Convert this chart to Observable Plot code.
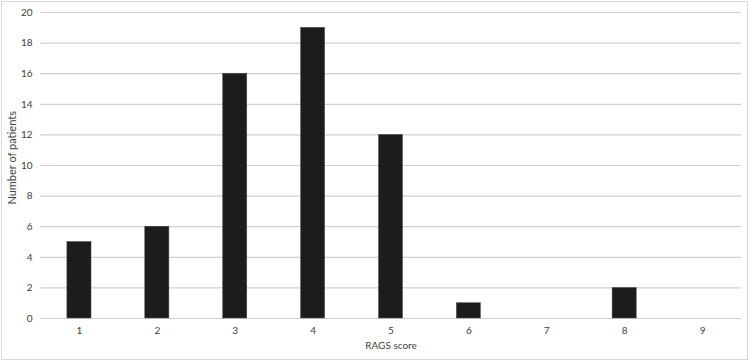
<!DOCTYPE html>
<html>
<head>
<meta charset="utf-8">
<script src="https://cdn.jsdelivr.net/npm/d3@7"></script>
<script src="https://cdn.jsdelivr.net/npm/@observablehq/plot@0.6"></script>
<style>
  html, body { margin: 0; padding: 0; background: #fff; }
  #chart svg { display: block; outline: 1px solid #d9d9d9; outline-offset: -2px; }
</style>
</head>
<body>
<div id="chart"></div>
<script>
const scores = ["1", "2", "3", "4", "5", "6", "7", "8", "9"];
const patients = [5, 6, 16, 19, 12, 1, 0, 2, 0];
const yTicks = [0, 2, 4, 6, 8, 10, 12, 14, 16, 18, 20];
const yTitle = ["Number of patients"];

const data = scores.map((s, i) => ({score: s, n: patients[i]}));

const chart = Plot.plot({
  width: 749,
  height: 361,
  marginLeft: 40,
  marginRight: 8,
  marginTop: 12,
  marginBottom: 43,
  style: {fontFamily: "Lato, 'Open Sans', sans-serif", fontSize: "10px", color: "#404040", background: "#fff"},
  x: {domain: scores, round: false, paddingInner: 0.69, paddingOuter: 0.345, label: "RAGS score", labelArrow: "none", labelAnchor: "center", labelOffset: 30, tickSize: 0, tickPadding: 8},
  y: {domain: [0, 20], ticks: yTicks, label: null, tickSize: 0, tickPadding: 8},
  marks: [
    Plot.ruleY(yTicks, {stroke: "#d0d0d0", strokeWidth: 1.2, strokeOpacity: 1}),
    Plot.barY(data, {x: "score", y: "n", fill: "#1c1c1c", stroke: "#555", strokeWidth: 0.5}),
    Plot.text(yTitle, {text: d => d, y: () => 10.5, frameAnchor: "left", textAnchor: "middle", dx: -28, rotate: -90, fontSize: 11, fill: "#404040"})
  ]
});
document.getElementById("chart").appendChild(chart);
</script>
</body>
</html>
